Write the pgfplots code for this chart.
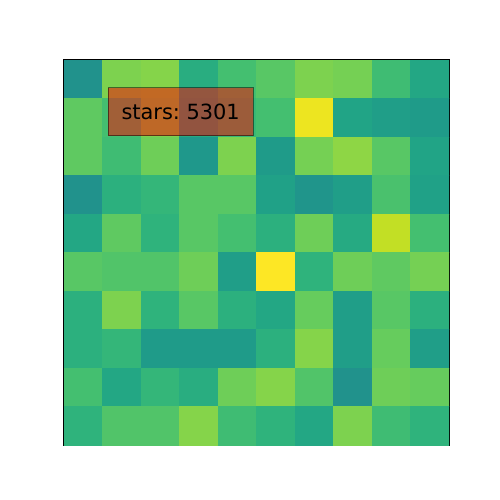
\documentclass[border=0pt]{standalone}
\usepackage{pgfplots}
\pgfplotsset{compat=1.18}
\usepackage{fontspec}
\setmainfont{DejaVu Sans}
\frenchspacing

\begin{document}
\begin{tikzpicture}
\path[use as bounding box] (0,0) rectangle (10cm,10cm);
\begin{axis}[
	at={(1.28cm,1.10cm)},
	anchor=south west,
	scale only axis,
	width=7.7cm,
	height=7.7cm,
	xmin=-0.5, xmax=9.5,
	ymin=-0.5, ymax=9.5,
	y dir=reverse,
	xtick=\empty,
	ytick=\empty,
	axis line style={line width=0.6pt},
	colormap name=viridis,
	point meta min=0,
	point meta max=77,
	]
	% star counts per cell, row 0 at the top
	\addplot[matrix plot*, mesh/cols=10, point meta=explicit] table[meta=c] {
x y c
0 0 39
1 0 62
2 0 63
3 0 48
4 0 54
5 0 57
6 0 62
7 0 61
8 0 53
9 0 46
0 1 58
1 1 54
2 1 62
3 1 47
4 1 52
5 1 54
6 1 75
7 1 45
8 1 43
9 1 42
0 2 58
1 2 53
2 2 60
3 2 41
4 2 62
5 2 42
6 2 61
7 2 64
8 2 57
9 2 45
0 3 39
1 3 49
2 3 51
3 3 57
4 3 57
5 3 44
6 3 40
7 3 43
8 3 55
9 3 44
0 4 46
1 4 58
2 4 50
3 4 57
4 4 54
5 4 49
6 4 60
7 4 47
8 4 70
9 4 54
0 5 57
1 5 56
2 5 56
3 5 60
4 5 43
5 5 77
6 5 50
7 5 60
8 5 58
9 5 61
0 6 49
1 6 62
2 6 50
3 6 57
4 6 49
5 6 46
6 6 59
7 6 43
8 6 57
9 6 49
0 7 49
1 7 51
2 7 42
3 7 42
4 7 42
5 7 49
6 7 63
7 7 43
8 7 59
9 7 43
0 8 54
1 8 46
2 8 51
3 8 48
4 8 60
5 8 63
6 8 56
7 8 39
8 8 60
9 8 59
0 9 50
1 9 56
2 9 56
3 9 63
4 9 53
5 9 50
6 9 46
7 9 62
8 9 53
9 9 50
	};
	\node[fill=red, fill opacity=0.5, draw=black, draw opacity=0.5, text opacity=1,
		line width=0.6pt, inner sep=0pt, minimum width=2.9cm, minimum height=0.96cm,
		font=\fontsize{11.9}{14}\selectfont]
		at (axis cs:2.53,0.85) {stars: 5301};
\end{axis}
\end{tikzpicture}
\end{document}
